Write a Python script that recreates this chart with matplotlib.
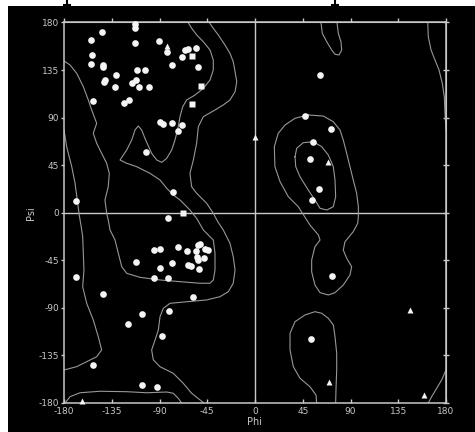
#Ramachandran plot, phi/psi of residues over the allowed region contours
import numpy as np
import matplotlib
matplotlib.use('Agg')
import matplotlib.pyplot as plt
from matplotlib.patches import Rectangle
from matplotlib.lines import Line2D

plt.rcParams['axes.unicode_minus'] = False
plt.rcParams['font.family'] = 'DejaVu Sans'

#general residues (circles)
circ_phi = [-113, -113.3, -143.8, -155, -113.3, -90.2, -82.8, -153.2, -155, -143.5,
            -142.8, -131.4, -111.4, -103.6, -142.5, -141.5, -132.3, -115.8, -112.6, -109.5,
            -99.5, -77.9, -69.1, -66, -62.9, -55.9, -53.4, -152.9, -123.9, -119.2,
            -89.2, -86.3, -77.8, -69, -72.4, -103, -168.6, -77.2, -81.8,
            -94.9, -89.6, -72.3, -64.4, -112.5, -89.5, -78, -95.2, -82, -62.9,
            -60.4, -52.5, -54, -55, -47.8, -44, -47.1, -54, -51.8, -55.6,
            -169, -143, -58.7, -80.8, -106.2, -120, -87.4, -153, -106.5, -92.6,
            61, 47.4, 71.3, 54.4, 51.8, 60.3, 53.4, 72.9, 52.8]
circ_psi = [179, 174.6, 171.2, 163.3, 160.4, 162.6, 152.5, 149, 141.2, 139.5,
            138, 130.4, 135.2, 135.5, 124, 125.7, 118.7, 122.5, 125.4, 118.7,
            118.7, 139.8, 147.7, 154, 154.9, 155.6, 138.2, 105.8, 103.6, 106.7,
            85.4, 83.7, 84.6, 82.7, 77.8, 57.2, 11.2, 20, -5,
            -35, -34.4, -32.7, -36.2, -47, -52.5, -48, -61.5, -61.8, -49.4,
            -50.1, -53.2, -44.7, -41.6, -43.1, -35.2, -34.6, -30.5, -29.8, -36.2,
            -61.1, -76.9, -79.4, -93, -96.1, -105.3, -116.6, -144, -163.2, -165.1,
            130.4, 91.6, 79.6, 66.6, 51.2, 22.1, 12, -59.6, -119.5]

#glycines (triangles)
tri_phi = [-83.3, 0, 68.8, 146.4, 69.4, 159, -163.3]
tri_psi = [157.5, 71.7, 48.3, -92.4, -160.5, -172.1, -177.8]

#prolines (squares)
sq_phi = [-59.7, -51.2, -59.3, -68.1]
sq_psi = [148.6, 119.7, 102.8, -0.5]

ticks = [-180, -135, -90, -45, 0, 45, 90, 135, 180]
tick_labels = [str(t) for t in ticks]

#contour lines, (phi, psi)
core_left = [(-63, 180), (-59.7, 174.5), (-54.9, 168.2), (-48.7, 161.8), (-42.4, 154),
             (-39.3, 144.5), (-39.3, 135.1), (-42.4, 125.6), (-48.7, 117.7), (-56.5, 111.4),
             (-64.4, 106.7), (-68.1, 100.3), (-70.7, 90.9), (-72.3, 81.4), (-75.4, 68.8),
             (-78.5, 59.4), (-83.2, 51.5), (-87.9, 47.7), (-92.6, 49.9), (-97.4, 56.2),
             (-103.7, 70.4), (-106.8, 78.3), (-110, 82.1), (-113.1, 78.3), (-116.2, 68.8),
             (-120.9, 59.4), (-127.2, 49.9), (-120.9, 46.8), (-111.5, 43.6), (-99, 37.3),
             (-89.5, 31), (-83.2, 23.1), (-77, 16.8), (-70.7, 12.1), (-61.3, 2.6),
             (-55, -5.3), (-48.7, -16.3), (-39.3, -25.8), (-37.7, -38.4), (-37.7, -54.2),
             (-39.3, -63.6), (-42.4, -66.7), (-51.8, -66.7), (-70.7, -65.2), (-89.5, -63.6),
             (-108.4, -61.1), (-120.9, -57.3), (-125.6, -51), (-128.8, -38.4), (-131.9, -25.8),
             (-136.6, -16.3), (-138.3, -6.9), (-139.8, -0.5), (-141.4, 12.1), (-138.3, 24.6),
             (-137.3, 37.3), (-139.8, 46.8), (-144.5, 56.2), (-149.2, 65.7), (-152.4, 75.2),
             (-149.2, 84.6), (-153.9, 97.2), (-157.1, 106.7), (-161.8, 119.3), (-168, 131.9),
             (-174.3, 139.8), (-180, 143.6)]
allowed_left = [(-43.1, 180), (-39.3, 174.5), (-34.6, 168.2), (-28.3, 158.7), (-23.6, 150.9),
                (-20.5, 142.9), (-18.8, 133.5), (-17.2, 124), (-18.8, 114.5), (-23.6, 106.7),
                (-29.9, 102), (-37.7, 97.2), (-48.7, 90.9), (-53.4, 81.4), (-55, 65.7),
                (-58.1, 49.9), (-61.3, 37.3), (-59.7, 24.6), (-55, 18.4), (-45.5, 8.9),
                (-39.3, -0.5), (-34.9, -8.8), (-29.9, -16.3), (-23.6, -28.9), (-20.5, -41.6),
                (-18.8, -54.2), (-20.5, -66.7), (-25.2, -74.7), (-33, -79.4), (-45.5, -82.5),
                (-64.4, -84.2), (-80.1, -85.7), (-86.4, -90.4), (-89.5, -98.3), (-91.1, -110.9),
                (-94.2, -120.4), (-97.4, -129.8), (-95.8, -139.2), (-89.5, -145.7), (-77, -151.9),
                (-67.6, -161.4), (-59.7, -170.8), (-51.8, -177.1), (-48.1, -180)]
edge_left = [(-180, 78.3), (-177.5, 62.5), (-172.7, 43.6), (-169.6, 27.9), (-167.5, 12.1),
             (-165.9, -0.5), (-163.3, -16.3), (-162.4, -22.7), (-161.8, -38.4), (-161.2, -54.2),
             (-162.4, -70), (-158.6, -85.7), (-152.4, -101.5), (-147.7, -117.3), (-144.5, -129.8),
             (-149.2, -136.2), (-158.6, -140.9), (-168, -145.6), (-180, -148.8)]
bottom_left = [(-179, -180), (-174.3, -174), (-164.9, -170.3), (-146.1, -168.9), (-120.9, -169.3),
               (-102.1, -170.3), (-83.2, -169.6), (-77, -170.8), (-72.3, -175.6), (-69.1, -180)]
top_right_lobe = [(62.2, 180), (63.4, 169.8), (67.6, 161.8), (72.3, 154), (75.4, 149.9),
                  (79.2, 149.3), (81.7, 154), (81, 161.8), (78.5, 169.8), (77.3, 180)]
alpha_l_outer = [(50.2, 92.5), (64.4, 91.5), (73.8, 86.1), (80.1, 78.3), (83.2, 68.8),
                 (86.4, 56.2), (89.5, 43.6), (92.6, 31), (95.8, 18.4), (97.4, 5.7),
                 (97.4, -3.7), (96.8, -10), (92.6, -17.9), (84.8, -27.4), (83.2, -35.2),
                 (86.4, -43.1), (91.1, -51), (89.5, -58.9), (83.2, -68.4), (75.4, -75.6),
                 (69.1, -77.8), (61.3, -75.6), (56.5, -68.4), (53.4, -55.8), (53.4, -44.7),
                 (56.5, -32.1), (61.3, -25.8), (59.7, -21), (51.8, -11.6), (45.2, -1.2),
                 (40.8, 5.7), (31.4, 15.2), (23.6, 29.4), (18.8, 43.6), (18.2, 62.5),
                 (21.9, 75.2), (28.3, 83), (37.7, 89.4), (50.2, 92.5)]
alpha_l_inner = [(37.7, 53), (39.3, 61), (45.5, 66.3), (54.9, 67.2), (62.9, 62.5),
                 (69.1, 54.6), (73.8, 43.6), (75.4, 31), (76, 15.2), (73.8, 5.7),
                 (67.6, 2.6), (61.3, 4.2), (56.5, 12.1), (50.2, 21.5), (42.4, 34.1),
                 (38.4, 43.6), (37.7, 53)]
bottom_right_lobe = [(58.1, -180), (57.5, -172.4), (51.8, -164.6), (42.4, -156.6), (36.1, -145.6),
                     (33, -129.8), (33, -114.1), (37.7, -103.1), (47.1, -96.7), (56.5, -93.6),
                     (62.9, -95.1), (69.1, -99.9), (73.8, -106.2), (75.4, -117.3), (77, -133),
                     (77, -148.8), (76.3, -167.7), (76, -180)]
edge_right_top = [(162.8, 180), (163.3, 166.6), (165.9, 154), (169.6, 144.5), (173.4, 135.1),
                  (176.5, 122.5), (178.4, 109.8), (179, 94.1), (180, 78.3)]
edge_right_bottom = [(163.3, -180), (166.5, -174), (171.2, -166.1), (175.9, -158.2), (180, -148.8)]

contour_lines = [core_left, allowed_left, edge_left, bottom_left, top_right_lobe,
                 alpha_l_outer, alpha_l_inner, bottom_right_lobe, edge_right_top, edge_right_bottom]

W, H = 475, 432
fig = plt.figure(figsize=(W/100, H/100), dpi=100, facecolor='white')
#black panel of the screenshot, white strip at top and left
fig.add_artist(Rectangle((8/W, 0), 1-8/W, (H-6)/H, transform=fig.transFigure,
                         facecolor='black', edgecolor='none', zorder=0))
for xp in [67, 335]:
    fig.add_artist(Line2D([xp/W, xp/W], [1, (H-6)/H], transform=fig.transFigure, color='black', lw=1.5))
    fig.add_artist(Line2D([(xp-3)/W, (xp+3)/W], [(H-5)/H, (H-5)/H], transform=fig.transFigure, color='black', lw=1.5))

ax = fig.add_axes([64/W, 29/H, 382/W, 380.5/H])
ax.set_facecolor('black')

fg = '#c8c8c8'
for c in contour_lines:
    c = np.array(c)
    ax.plot(c[:, 0], c[:, 1], color='#979797', lw=0.8, zorder=2)

ax.axhline(0, color=fg, lw=1.0, zorder=1)
ax.axvline(0, color=fg, lw=1.0, zorder=1)

ax.plot(circ_phi, circ_psi, 'o', color='#f4f4f4', ms=4.8, mec='none', zorder=3, clip_on=False)
ax.plot(tri_phi, tri_psi, '^', color='#f4f4f4', ms=4.8, mec='none', zorder=3, clip_on=False)
ax.plot(sq_phi, sq_psi, 's', color='#f4f4f4', ms=4.3, mec='none', zorder=3, clip_on=False)

ax.set_xlim(-180, 180)
ax.set_ylim(-180, 180)
ax.set_xticks(ticks)
ax.set_xticklabels(tick_labels)
ax.set_yticks(ticks)
ax.set_yticklabels(tick_labels)
for s in ax.spines.values():
    s.set_color(fg)
    s.set_linewidth(1.1)
ax.tick_params(axis='x', direction='in', length=3, width=1, color=fg, labelcolor=fg, labelsize=6.5, pad=3)
ax.tick_params(axis='y', direction='out', length=2, width=1, color=fg, labelcolor=fg, labelsize=6.5, pad=1.5)

top = ax.secondary_xaxis('top')
top.set_xticks(ticks)
top.tick_params(direction='out', length=3, width=1, color=fg, labeltop=False)
top.spines['top'].set_color(fg)
right = ax.secondary_yaxis('right')
right.set_yticks(ticks)
right.tick_params(direction='inout', length=4, width=1, color=fg, labelright=False)
right.spines['right'].set_color(fg)

ax.set_xlabel('Phi', color=fg, fontsize=7, labelpad=0.5)
ax.set_ylabel('Psi', color=fg, fontsize=7, labelpad=2)

plt.savefig('out.png', dpi=100, facecolor='white')
